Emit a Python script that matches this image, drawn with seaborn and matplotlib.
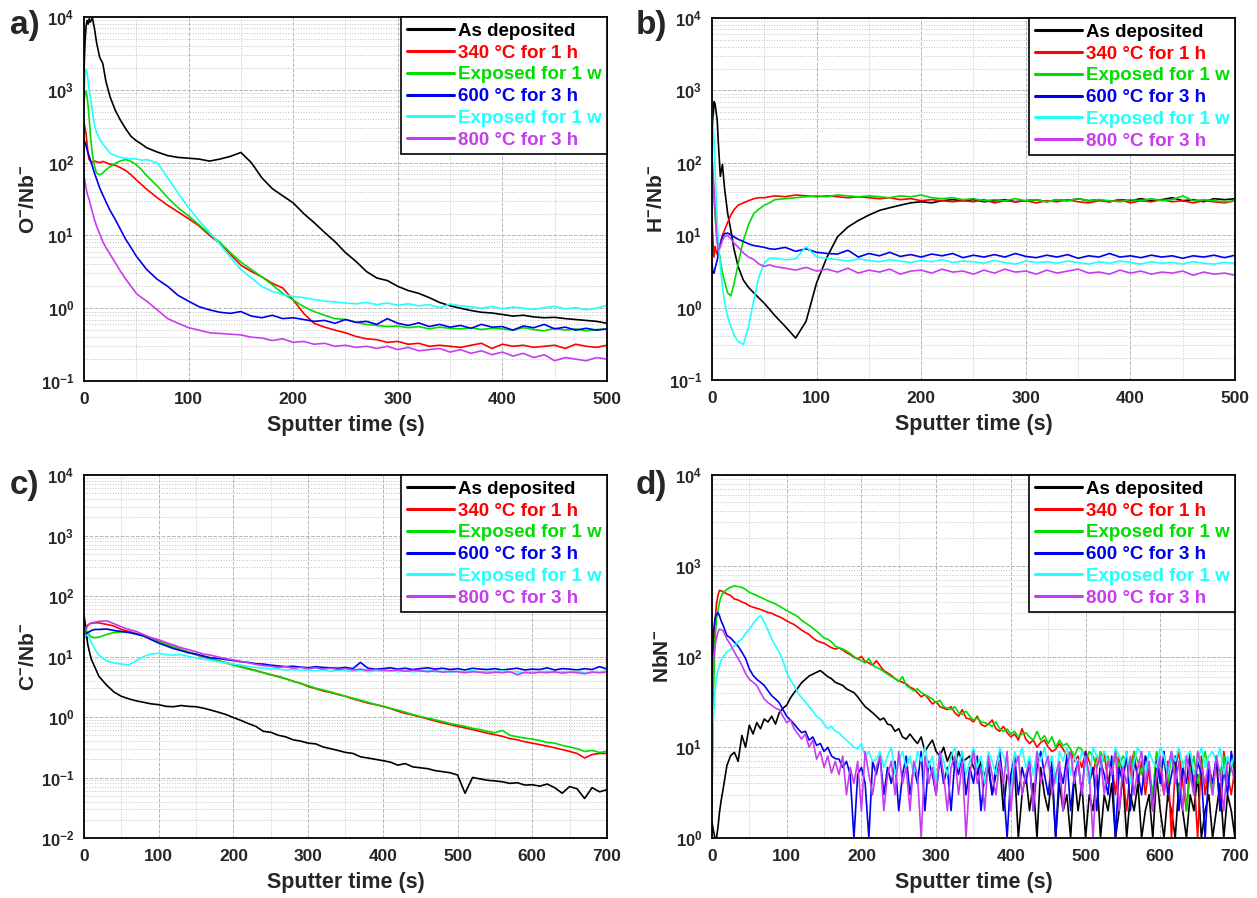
import numpy as np
import pandas as pd
import matplotlib
matplotlib.use("Agg")
import matplotlib.pyplot as plt
import matplotlib.ticker as mticker
import seaborn as sns

# ----------------------------------------------------------
# DATOS
# ----------------------------------------------------------
etiquetas = ["As deposited", "340 °C for 1 h", "Exposed for 1 w",
             "600 °C for 3 h", "Exposed for 1 w", "800 °C for 3 h"]
colores = ["#000000", "#ff0000", "#00dd00", "#0000ee", "#22ffff", "#c83cf0"]

# tiempos de muestreo (s)
t_ab = [0, 1, 2, 3, 4, 5, 6, 8, 10, 12, 15, 18, 21, 25, 30, 35, 40, 45, 50, 55, 60] + list(range(70, 501, 10))
t_c = [0, 2, 5, 8, 10, 15] + list(range(20, 701, 10))
t_d = [0, 2, 4, 6, 8, 10, 12, 15] + list(range(20, 701, 5))

# --- a) O-/Nb-
o_black = [1800, 4500, 7500, 9000, 8000, 9500, 8500, 9800, 7000, 4500, 2800, 2300, 1300, 800, 520, 380, 290, 230, 200, 180, 160,
           140, 125, 118, 115, 112, 105, 112, 122, 138, 100, 62, 44, 35, 28, 20, 15, 11, 8.2, 5.8, 4.4, 3.2, 2.6, 2.4, 2.0,
           1.75, 1.6, 1.4, 1.2, 1.08, 1.0, 0.93, 0.88, 0.86, 0.82, 0.78, 0.80, 0.76, 0.74, 0.75, 0.72, 0.70, 0.68, 0.66, 0.62]
o_red = [350, 300, 250, 180, 130, 110, 105, 102, 105, 103, 100, 104, 100, 95, 92, 85, 78, 68, 58, 50, 43,
         33, 26, 21, 17, 13.5, 10, 7.8, 5.5, 3.9, 3.2, 2.7, 2.2, 1.9, 1.3, 0.85, 0.62, 0.55, 0.50, 0.46, 0.41, 0.38, 0.37, 0.34, 0.35,
         0.32, 0.33, 0.30, 0.31, 0.30, 0.29, 0.31, 0.33, 0.28, 0.32, 0.30, 0.31, 0.29, 0.30, 0.31, 0.28, 0.32, 0.30, 0.29, 0.31]
o_green = [700, 900, 950, 800, 600, 400, 250, 130, 90, 72, 68, 72, 80, 88, 98, 106, 110, 104, 94, 80, 66,
           48, 33, 24, 18.5, 14, 10.5, 8, 5.8, 4.3, 3.4, 2.7, 2.1, 1.6, 1.3, 1.05, 0.9, 0.8, 0.72, 0.70, 0.64, 0.60, 0.58, 0.56, 0.57,
           0.54, 0.56, 0.52, 0.55, 0.53, 0.52, 0.54, 0.51, 0.53, 0.52, 0.50, 0.54, 0.51, 0.49, 0.53, 0.50, 0.52, 0.49, 0.51, 0.52]
o_blue = [210, 190, 170, 150, 135, 123, 110, 90, 72, 60, 45, 36, 29, 22, 16.5, 12, 8.8, 6.8, 5.2, 4.2, 3.4,
          2.5, 2.0, 1.5, 1.25, 1.05, 0.95, 0.88, 0.85, 0.90, 0.78, 0.74, 0.80, 0.72, 0.74, 0.70, 0.66, 0.68, 0.62, 0.70, 0.64, 0.66, 0.60, 0.72, 0.62,
          0.58, 0.63, 0.56, 0.60, 0.55, 0.58, 0.53, 0.60, 0.55, 0.56, 0.50, 0.57, 0.54, 0.60, 0.52, 0.55, 0.50, 0.53, 0.50, 0.52]
o_cyan = [900, 1500, 1900, 1700, 1300, 1000, 800, 520, 330, 260, 210, 180, 160, 135, 125, 118, 115, 112, 113, 108, 110,
          100, 62, 38, 24, 16, 11, 7.5, 5, 3.4, 2.6, 2.0, 1.7, 1.55, 1.45, 1.40, 1.32, 1.25, 1.22, 1.18, 1.15, 1.20, 1.12, 1.18, 1.10,
          1.15, 1.08, 1.12, 1.02, 1.14, 1.08, 1.05, 1.00, 1.06, 0.98, 1.04, 1.00, 0.96, 1.02, 1.06, 0.98, 1.02, 0.95, 1.00, 1.10]
o_mag = [65, 55, 45, 38, 34, 31, 27, 21, 16.5, 13.5, 10.5, 8.2, 6.8, 5.5, 4.2, 3.2, 2.5, 2.0, 1.6, 1.4, 1.25,
         0.95, 0.72, 0.62, 0.54, 0.50, 0.46, 0.45, 0.44, 0.43, 0.40, 0.39, 0.36, 0.38, 0.34, 0.35, 0.32, 0.33, 0.30, 0.31, 0.29, 0.30, 0.28, 0.30, 0.27,
         0.29, 0.26, 0.27, 0.28, 0.25, 0.27, 0.24, 0.26, 0.23, 0.25, 0.22, 0.24, 0.21, 0.23, 0.19, 0.21, 0.20, 0.19, 0.21, 0.20]

# --- b) H-/Nb-
h_black = [150, 400, 700, 650, 500, 390, 200, 65, 95, 45, 20, 11.8, 6.5, 3.7, 2.4, 1.9, 1.6, 1.35, 1.15, 0.95, 0.78,
           0.55, 0.38, 0.65, 2.2, 5.0, 9.5, 13, 16, 19, 22, 24, 26, 28, 29, 28, 30, 31, 30, 31, 29, 30, 31, 29, 30,
           31, 29, 31, 30, 32, 30, 31, 29, 31, 30, 32, 30, 31, 33, 30, 31, 29, 32, 31, 32]
h_red = [18, 8, 5, 7, 6, 5.5, 6.5, 7.8, 10, 11.7, 15, 19, 22.5, 26, 28, 30, 32, 33, 33, 34, 35,
         34, 36, 35, 34, 35, 34, 33, 34, 33, 32, 33, 31, 32, 30, 31, 30, 29, 30, 29, 31, 28, 30, 29, 30,
         28, 30, 29, 31, 29, 28, 30, 29, 31, 28, 30, 29, 31, 29, 30, 28, 30, 29, 28, 30]
h_green = [150, 60, 30, 18, 12, 9, 7, 4.5, 3.0, 2.3, 1.6, 1.45, 2.1, 4.0, 8.5, 14, 20, 23, 26, 28, 31,
           32, 33, 34, 35, 34, 36, 35, 34, 35, 34, 33, 35, 34, 36, 33, 32, 33, 31, 32, 30, 31, 30, 32, 30,
           31, 29, 31, 30, 32, 30, 31, 30, 29, 31, 30, 32, 30, 31, 35, 30, 31, 30, 29, 30]
h_blue = [4, 3, 3, 3.5, 4, 4.5, 5.5, 7.5, 9.5, 10.5, 10.7, 10.2, 9.5, 8.8, 8.2, 7.6, 7.2, 7.0, 6.8, 6.5, 6.4,
          6.8, 6.0, 6.5, 5.8, 5.6, 5.5, 6.2, 5.0, 5.6, 5.2, 5.8, 5.1, 5.4, 5.0, 5.5, 5.2, 5.6, 4.9, 5.3, 5.0, 5.4, 5.0, 5.6, 5.1,
          4.9, 5.3, 5.0, 5.4, 4.8, 5.2, 5.0, 5.6, 5.0, 5.2, 4.9, 5.3, 5.0, 5.2, 4.8, 5.2, 5.0, 5.3, 4.9, 5.3]
h_cyan = [540, 350, 205, 80, 34, 16, 8.6, 3.7, 1.95, 1.2, 0.75, 0.55, 0.42, 0.34, 0.31, 0.55, 1.27, 2.7, 4.1, 4.8, 4.8,
          4.6, 4.7, 7.0, 5.0, 4.8, 4.6, 4.4, 4.7, 4.5, 4.3, 4.6, 4.4, 4.2, 4.5, 4.3, 4.6, 4.2, 4.4, 4.3, 4.1, 4.5, 4.2, 4.0, 4.4,
          4.2, 4.3, 4.1, 4.4, 4.2, 4.0, 4.3, 4.1, 4.4, 4.2, 4.0, 4.3, 4.1, 4.2, 4.0, 4.3, 4.1, 4.0, 4.2, 4.1]
h_mag = [110, 70, 42, 22, 11.7, 8, 6.3, 6.9, 8.5, 9.6, 10, 9, 7.8, 6.9, 5.7, 5.0, 4.6, 4.0, 3.7, 3.9, 3.7,
         3.5, 3.3, 3.6, 3.2, 3.4, 3.1, 3.5, 3.0, 3.3, 3.1, 3.4, 2.9, 3.2, 3.3, 3.0, 3.4, 3.1, 3.2, 2.9, 3.3, 3.0, 3.4, 3.1, 3.2,
         2.9, 3.3, 3.0, 3.2, 3.4, 3.0, 3.1, 2.9, 3.3, 3.0, 3.2, 2.9, 3.1, 3.0, 3.2, 2.8, 3.1, 2.9, 3.0, 2.8]

# --- c) C-/Nb-
c_black = [49, 32, 16, 11, 8.9, 6.5, 4.7, 3.4, 2.6, 2.2, 2.0, 1.85, 1.75, 1.65, 1.6, 1.5, 1.48, 1.55, 1.5, 1.48,
           1.4, 1.3, 1.2, 1.1, 0.98, 0.88, 0.78, 0.70, 0.58, 0.56, 0.50, 0.47, 0.42, 0.40, 0.37, 0.36, 0.32, 0.30, 0.28, 0.26,
           0.25, 0.22, 0.21, 0.20, 0.19, 0.18, 0.16, 0.17, 0.15, 0.145, 0.14, 0.13, 0.125, 0.12, 0.11, 0.055, 0.10, 0.095, 0.09, 0.088,
           0.085, 0.08, 0.082, 0.075, 0.076, 0.072, 0.078, 0.068, 0.055, 0.071, 0.065, 0.045, 0.068, 0.058, 0.063]
c_red = [24, 30, 33, 35, 35.5, 36, 36, 34, 32, 28, 26, 24, 22, 20, 17.8, 16, 14.5, 13, 11.8, 10.7,
         9.8, 9.2, 8.5, 7.9, 7.3, 6.8, 6.3, 5.9, 5.4, 5.0, 4.7, 4.3, 3.9, 3.6, 3.2, 2.95, 2.7, 2.55, 2.35, 2.2,
         2.0, 1.85, 1.7, 1.6, 1.5, 1.38, 1.25, 1.15, 1.08, 1.0, 0.93, 0.86, 0.8, 0.75, 0.70, 0.66, 0.62, 0.58, 0.54, 0.51,
         0.48, 0.44, 0.42, 0.39, 0.37, 0.35, 0.33, 0.31, 0.29, 0.27, 0.25, 0.21, 0.24, 0.25, 0.25]
c_green = [30, 28, 25, 22, 21, 20.5, 21, 23, 25, 25.5, 25, 23.5, 21.5, 19.5, 17.5, 16, 14.5, 13, 12, 10.8,
           10, 9.2, 8.5, 7.8, 7.2, 6.7, 6.2, 5.8, 5.4, 5.0, 4.6, 4.3, 3.9, 3.6, 3.3, 3.0, 2.8, 2.6, 2.4, 2.2,
           2.05, 1.9, 1.75, 1.62, 1.52, 1.4, 1.3, 1.2, 1.1, 1.02, 0.96, 0.9, 0.84, 0.78, 0.74, 0.70, 0.65, 0.62, 0.58, 0.55,
           0.60, 0.50, 0.47, 0.45, 0.43, 0.41, 0.38, 0.37, 0.34, 0.32, 0.30, 0.27, 0.28, 0.26, 0.27]
c_blue = [20, 22, 25, 26, 27, 28, 28, 28.5, 27, 26, 25, 23.5, 22, 19, 16.7, 15, 13.5, 12.5, 11.5, 11,
          10.2, 9.5, 9.3, 8.9, 8.6, 8.2, 8.0, 7.6, 7.5, 7.2, 7.0, 6.8, 6.9, 6.7, 6.5, 6.8, 6.6, 6.5, 6.4, 6.6,
          6.3, 8.0, 6.4, 6.2, 6.3, 6.5, 6.2, 6.4, 6.1, 6.3, 6.5, 6.2, 6.4, 6.1, 6.3, 6.0, 6.4, 6.2, 6.1, 6.3,
          6.0, 6.2, 6.4, 6.0, 6.2, 6.1, 6.5, 6.0, 6.3, 6.2, 6.0, 6.3, 6.1, 6.8, 6.2]
c_cyan = [20, 22, 23, 19, 17, 13, 10.5, 8.5, 7.8, 7.5, 7.3, 8.5, 10, 11, 11.3, 10.8, 10.5, 10.8, 10, 9.5,
          9.0, 8.6, 8.2, 7.8, 7.5, 7.2, 6.9, 6.6, 6.4, 6.3, 6.2, 6.0, 6.1, 5.9, 6.0, 5.8, 6.0, 5.7, 5.9, 5.8,
          5.7, 5.9, 5.6, 5.8, 5.7, 5.9, 5.6, 5.8, 5.6, 5.7, 5.9, 5.6, 5.7, 5.5, 5.7, 5.6, 5.8, 5.5, 5.7, 5.6,
          5.8, 5.5, 5.6, 5.4, 5.6, 5.5, 5.7, 5.4, 5.6, 5.5, 5.7, 5.4, 5.6, 5.5, 5.8]
c_mag = [25, 28, 32, 35, 36, 37, 38, 39, 35, 31, 28, 26, 23, 20.5, 19, 17, 15.5, 14, 13, 12,
         11, 10.5, 9.8, 9.2, 8.8, 8.3, 7.9, 7.4, 7.1, 6.9, 6.6, 6.8, 6.4, 6.6, 6.3, 6.5, 6.2, 6.4, 6.1, 6.3,
         6.0, 6.2, 5.9, 6.1, 6.0, 5.8, 6.0, 5.7, 5.9, 5.8, 5.6, 5.8, 5.5, 5.7, 5.6, 5.4, 5.6, 5.5, 5.3, 5.5,
         5.4, 5.6, 5.0, 5.5, 5.3, 5.5, 5.4, 5.6, 5.3, 5.5, 5.4, 5.2, 5.5, 5.4, 5.5]

# --- d) NbN-
n_black = [1.5, 1.2, 1, 1, 1.3, 1.9, 2.5, 3.5,
           6.3, 8.1, 8.8, 7, 13.5, 10, 17.5, 14, 18.7, 16,
           20.5, 19, 22, 18, 24, 27, 29, 35, 40, 45,
           51.5, 56, 61, 64, 67, 70, 65, 60, 57, 52,
           50, 48, 44, 42, 40, 36, 31.6, 28, 26, 24,
           22, 20, 21, 18, 17.5, 15, 16, 13, 12.3, 14,
           12.3, 11, 13, 9, 10.5, 12, 9, 8, 10, 7,
           8.8, 6, 9, 7, 7.4, 8, 6, 5, 7, 4,
           6, 3, 5, 7, 2, 5, 4, 6, 1, 3,
           5, 2, 4, 1, 6, 3, 2, 5, 1, 4,
           2, 3, 1, 5, 2, 4, 1, 3, 2, 5,
           1, 3, 2, 4, 1, 2, 5, 1, 3, 2,
           4, 1, 2, 3, 1, 5, 2, 1, 3, 2,
           1, 4, 2, 1, 3, 2, 5, 1, 2, 3,
           1, 2, 4, 1, 3, 2, 1]
n_red = [14.5, 100, 230, 380, 470, 535, 530, 515,
         490, 470, 430, 420, 400, 385, 362, 350, 340, 330,
         318, 306, 300, 285, 275, 262, 247, 235, 225, 210,
         195, 185, 175, 160, 150, 144, 140, 132, 125, 121,
         125, 118, 110, 105, 98, 94, 100, 88, 85, 80,
         90, 79, 70, 66, 62, 57, 54, 52, 50, 46,
         44, 40, 36, 38, 34, 30, 32, 28, 27, 26,
         28, 24, 22, 26, 21, 20.5, 19, 22, 18, 17,
         18, 20, 16, 15, 17, 14.5, 13, 14, 12, 16,
         12.3, 11, 12, 10, 11.3, 12, 10, 9, 9.5, 11,
         9.5, 8, 9, 7, 8, 6, 9, 7, 5, 8,
         6, 9, 4, 7, 3, 8, 5, 2, 6, 9,
         4, 7, 3, 6, 2, 8, 5, 3, 7, 1,
         6, 9, 4, 2, 7, 5, 1, 8, 3, 6,
         4, 7, 2, 9, 5, 3, 6]
n_green = [2.3, 40, 150, 260, 320, 395, 450, 510,
           550, 580, 600, 590, 577, 550, 510, 490, 470, 450,
           430, 410, 395, 380, 360, 340, 320, 305, 290, 275,
           250, 235, 220, 205, 190, 175, 160, 155, 145, 130,
           125, 121, 115, 108, 100, 94, 90, 85, 95, 80,
           76, 73, 68, 64, 60, 57, 53, 60, 48, 45,
           42, 44, 40, 38, 36, 34, 31, 33, 28, 27,
           26, 28, 24, 23, 25, 22, 20, 21, 19, 18.7,
           18, 17, 19, 16, 15, 15.9, 14, 15, 13, 14,
           14.5, 13, 12, 15, 12, 13.4, 11, 13, 10, 12,
           10.4, 11, 9.5, 8, 10, 9.5, 7, 9, 8, 6,
           9, 7, 8, 5, 9, 6, 8, 7, 4, 9,
           7, 5, 8, 6, 3, 9, 6, 7, 4, 8,
           6, 3, 7, 2, 5, 8, 4, 6, 9, 5,
           3, 7, 5, 8, 4, 6, 7]
n_blue = [67, 185, 260, 290, 305, 282, 250, 220,
          170, 160, 144, 130, 112, 95, 73, 62, 56, 52,
          48, 42, 37, 34, 31, 26, 22, 20, 18, 16,
          14.5, 15, 12, 13, 10.5, 11, 9, 10, 8, 7.5,
          7.4, 6, 7, 5, 1, 5, 6, 4, 1, 7,
          5, 8, 3, 6, 4, 7, 2, 5, 8, 3,
          6, 4, 9, 2, 7, 5, 3, 8, 4, 6,
          2, 7, 5, 9, 3, 6, 4, 8, 2, 5,
          7, 3, 6, 9, 4, 1, 5, 8, 3, 6,
          4, 7, 2, 6, 9, 5, 3, 7, 1, 6,
          4, 8, 2, 5, 7, 3, 9, 4, 6, 2,
          7, 5, 3, 8, 1, 6, 4, 9, 2, 7,
          5, 3, 8, 6, 2, 7, 4, 9, 3, 5,
          8, 2, 6, 4, 9, 3, 7, 5, 1, 6,
          4, 8, 2, 6, 3, 9, 5]
n_cyan = [10.5, 22, 40, 57, 70, 79, 90, 100,
          112, 120, 132, 145, 156, 180, 200, 230, 260, 282,
          240, 195, 156, 130, 112, 90, 67, 55, 48, 40,
          35, 31.6, 28, 25, 22, 20.5, 18, 16, 17, 15,
          14.5, 13, 12, 11, 10, 9.6, 11, 8, 9, 7,
          7.4, 9, 6, 8, 10, 5, 7, 9, 6, 8,
          5, 9, 7, 10, 6, 8, 4, 9, 7, 5,
          8, 10, 6, 9, 5, 7, 10, 6, 8, 4,
          9, 7, 5, 10, 8, 6, 3, 9, 7, 10,
          6, 8, 5, 9, 7, 10, 6, 8, 4, 9,
          7, 10, 5, 8, 6, 9, 7, 4, 10, 8,
          6, 9, 7, 5, 10, 8, 6, 9, 4, 7,
          10, 8, 5, 9, 7, 6, 10, 8, 5, 9,
          7, 10, 6, 8, 9, 5, 7, 10, 6, 8,
          9, 7, 10, 5, 8, 6, 9]
n_mag = [29, 90, 130, 160, 185, 200, 198, 192,
         156, 135, 112, 95, 80, 65, 56, 52, 48, 40,
         34, 31, 29, 27, 26, 22, 18.7, 20, 16, 14,
         12.3, 14, 10, 12, 7.4, 9, 6, 8, 5.2, 7,
         5, 8, 3, 6, 4, 7, 2, 9, 5, 3,
         6, 8, 2, 5, 7, 3, 9, 4, 6, 2,
         7, 5, 1, 8, 4, 6, 3, 9, 5, 2,
         6, 8, 3, 7, 1, 5, 9, 4, 6, 2,
         8, 5, 3, 7, 4, 9, 2, 6, 8, 3,
         5, 7, 2, 9, 4, 6, 8, 3, 5, 7,
         2, 6, 9, 4, 7, 3, 8, 5, 1, 6,
         8, 3, 7, 5, 9, 2, 6, 4, 8, 3,
         6, 9, 4, 7, 2, 5, 8, 3, 6, 9,
         4, 7, 2, 8, 5, 3, 9, 6, 4, 7,
         3, 8, 5, 2, 7, 6, 4]

# exponentes de los ejes y
exp_ab = [-1, 0, 1, 2, 3, 4]
exp_c = [-2, -1, 0, 1, 2, 3, 4]
exp_d = [0, 1, 2, 3, 4]

paneles = [
    ("a)", t_ab, [o_black, o_red, o_green, o_blue, o_cyan, o_mag], "O$^{-}$/Nb$^{-}$", 500, exp_ab),
    ("b)", t_ab, [h_black, h_red, h_green, h_blue, h_cyan, h_mag], "H$^{-}$/Nb$^{-}$", 500, exp_ab),
    ("c)", t_c, [c_black, c_red, c_green, c_blue, c_cyan, c_mag], "C$^{-}$/Nb$^{-}$", 700, exp_c),
    ("d)", t_d, [n_black, n_red, n_green, n_blue, n_cyan, n_mag], "NbN$^{-}$", 700, exp_d),
]

# ----------------------------------------------------------
# ESTILO
# ----------------------------------------------------------
sns.set_style("white")
plt.rcParams["font.family"] = ["Liberation Sans", "DejaVu Sans"]
plt.rcParams["font.weight"] = "bold"
plt.rcParams["mathtext.fontset"] = "custom"
plt.rcParams["mathtext.rm"] = "Liberation Sans:bold"
plt.rcParams["mathtext.bf"] = "Liberation Sans:bold"
plt.rcParams["mathtext.default"] = "bf"
plt.rcParams["axes.linewidth"] = 1.3

fig = plt.figure(figsize=(12.57, 8.98), dpi=100)

posiciones = [
    [0.0668, 0.5757, 0.4161, 0.4053],
    [0.5664, 0.5768, 0.4161, 0.4031],
    [0.0668, 0.0668, 0.4161, 0.4042],
    [0.5664, 0.0668, 0.4161, 0.4042],
]
letras_pos = [(0.008, 0.972), (0.506, 0.972), (0.008, 0.459), (0.506, 0.459)]


def fmt_log(v, pos):
    e = int(round(np.log10(v)))
    return "$\\mathbf{10^{%d}}$" % e


for (letra, tiempos, series, ylab, xmax, exps), rect, lp in zip(paneles, posiciones, letras_pos):
    ax = fig.add_axes(rect)
    ax.set_yscale("log")

    for vals, col, lab in zip(series, colores, etiquetas):
        df = pd.DataFrame({"t": tiempos, "v": vals})
        sns.lineplot(data=df, x="t", y="v", color=col, lw=1.2, ax=ax,
                     estimator=None, sort=False, label=lab, legend=False)

    ax.set_xlim(0, xmax)
    ax.set_ylim(10.0 ** exps[0], 10.0 ** exps[-1])

    ax.xaxis.set_major_locator(mticker.MultipleLocator(100))
    ax.xaxis.set_minor_locator(mticker.MultipleLocator(50))
    mayores = [10.0 ** e for e in exps]
    menores = [m * 10.0 ** e for e in exps[:-1] for m in range(2, 10)]
    ax.yaxis.set_major_locator(mticker.FixedLocator(mayores))
    ax.yaxis.set_minor_locator(mticker.FixedLocator(menores))
    ax.yaxis.set_major_formatter(mticker.FuncFormatter(fmt_log))
    ax.yaxis.set_minor_formatter(mticker.NullFormatter())

    ax.grid(which="major", ls="--", color="#b4b4b4", lw=0.7)
    ax.grid(which="minor", ls=":", color="#c4c4c4", lw=0.7)
    ax.set_axisbelow(True)

    ax.tick_params(axis="y", which="major", direction="out", length=5, width=1.2, labelsize=12, pad=2)
    ax.tick_params(axis="y", which="minor", direction="out", length=3, width=1.0)
    ax.tick_params(axis="x", which="major", direction="out", length=5, width=1.2, labelsize=12.5, pad=3)
    ax.tick_params(axis="x", which="minor", direction="in", length=4, width=1.0)
    for lbl in ax.get_xticklabels():
        lbl.set_fontweight("bold")

    for s in ax.spines.values():
        s.set_color("black")

    ax.set_xlabel("Sputter time (s)", fontsize=15.5, fontweight="bold", labelpad=6)
    ax.set_ylabel(ylab, fontsize=15, fontweight="bold", labelpad=2)

    leg = ax.legend(loc="upper right", bbox_to_anchor=(1.0, 1.0), borderaxespad=0,
                    fancybox=False, edgecolor="black", framealpha=1,
                    prop={"family": "Liberation Sans", "weight": "bold", "size": 13.5},
                    handlelength=2.5, handletextpad=0.2, labelspacing=0.25,
                    borderpad=0.3)
    leg.get_frame().set_linewidth(1.2)
    for txt, col in zip(leg.get_texts(), colores):
        txt.set_color(col)
    for ln in leg.get_lines():
        ln.set_linewidth(2.2)

    fig.text(lp[0], lp[1], letra, fontsize=24, fontweight="bold", va="center", ha="left")

fig.savefig("out.png", dpi=100)
